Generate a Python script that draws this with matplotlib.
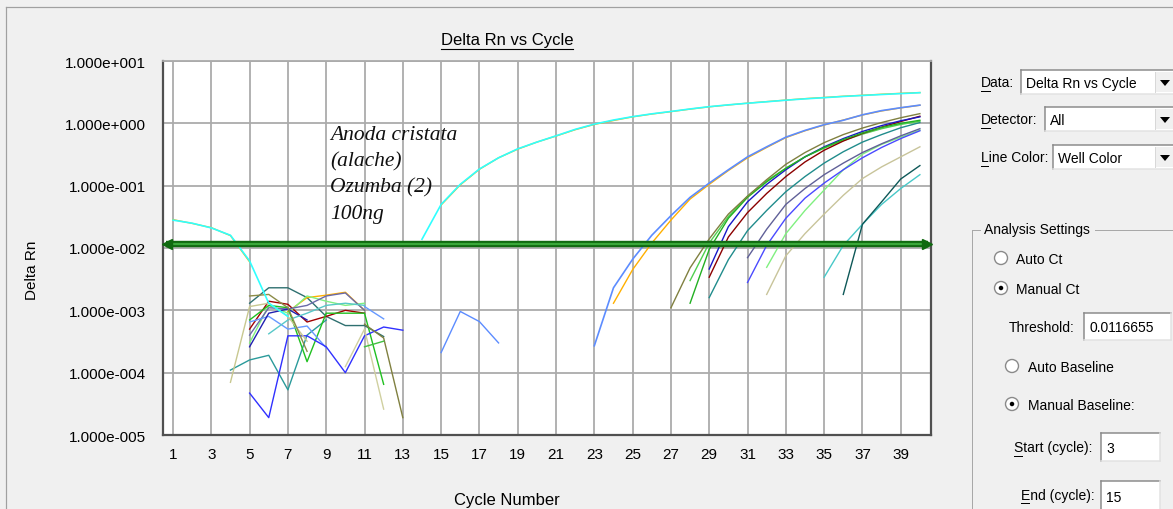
import numpy as np
import matplotlib.pyplot as plt
from matplotlib.lines import Line2D
from matplotlib.patches import Rectangle, Ellipse, Polygon

W, H = 1173, 510
FONT = 'Liberation Sans'

# Axis setup
x_ticks = list(range(1, 40, 2))
y_ticks = [1e-5, 1e-4, 1e-3, 1e-2, 1e-1, 1e0, 1e1]
y_tick_labels = ['1.000e-005', '1.000e-004', '1.000e-003', '1.000e-002',
                 '1.000e-001', '1.000e+000', '1.000e+001']
threshold = 0.0116655

sample_label = ['Anoda cristata', '(alache)', 'Ozumba (2)', '100ng']

# Well traces: (first cycle, delta Rn per cycle)
noise_teal = (4, [1.1e-4, 1.6e-4, 1.9e-4, 5.3e-5, 4.0e-4, 7.0e-4])
noise_darkteal = (5, [1.3e-3, 2.3e-3, 2.3e-3, 1.6e-3, 8.0e-4, 5.7e-4, 5.7e-4, 3.8e-4])
noise_orange = (7, [9.5e-4, 1.6e-3, 1.75e-3, 1.95e-3, 1.0e-3])
noise_red = (5, [5.0e-4, 1.4e-3, 1.25e-3, 6.5e-4, 8.0e-4, 1.0e-3, 9.0e-4])
noise_lightgreen = (5, [3.0e-4, 1.2e-3, 9.0e-4, 1.7e-3, 1.4e-3, 1.2e-3, 1.3e-3])
noise_green = (5, [7.0e-4, 1.2e-3, 1.1e-3, 1.5e-4, 9.0e-4, 9.0e-4, 9.0e-4, 6.5e-5])
noise_slate = (5, [4.0e-4, 1.1e-3, 1.05e-3, 1.2e-3, 1.7e-3, 1.9e-3, 1.0e-3])
noise_cornflower = (5, [6.5e-4, 8.0e-4, 5.0e-4, 5.6e-4, 2.5e-4])
noise_cornflower_b = (11, [1.15e-3, 7.3e-4])
noise_cornflower_c = (15, [2.1e-4, 9.6e-4, 6.6e-4, 3.0e-4])
noise_blue = (5, [4.7e-5, 1.9e-5, 3.9e-4, 3.9e-4, 2.6e-4, 1.0e-4, 3.9e-4, 5.4e-4, 4.8e-4])
noise_navy = (5, [2.6e-4, 9.0e-4, 1.05e-3, 7.0e-4])
noise_turquoise = (6, [4.2e-4, 7.0e-4, 9.0e-4, 1.2e-3, 1.3e-3, 1.2e-3])
noise_tan = (4, [7.0e-5, 1.15e-3, 1.3e-3, 8.0e-4, 3.2e-4])
noise_tan_b = (10, [1.25e-4, 5.0e-4, 2.6e-5])
noise_olive = (5, [1.7e-3, 1.8e-3, 1.1e-3, 2.2e-4])
noise_olive_b = (11, [6.0e-4, 3.6e-4, 1.9e-5])
noise_green_b = (11, [2.6e-4, 3.2e-4])

cyan_early = (1, [0.028, 0.025, 0.021, 0.016, 0.0062, 0.0013, 0.0008])
orange_early = (1, [0.0285, 0.0248, 0.0212, 0.0158, 0.006])
cyan_rise = (14, [0.0138, 0.05, 0.105, 0.185, 0.28, 0.39, 0.5, 0.63, 0.8, 0.97,
                  1.13, 1.28, 1.42, 1.55, 1.7, 1.85, 1.98, 2.1, 2.22, 2.35,
                  2.47, 2.58, 2.7, 2.8, 2.9, 3.0, 3.1])
orange_rise = (15, [0.049, 0.103, 0.183, 0.28, 0.385, 0.5, 0.625, 0.79, 0.96, 1.11,
                    1.27, 1.41, 1.54, 1.69, 1.84, 1.97, 2.11, 2.23, 2.36, 2.49,
                    2.6, 2.72, 2.82, 2.93, 3.03, 3.12])

late_blue_top = (23, [0.00027, 0.0023, 0.0066, 0.016, 0.033, 0.065, 0.11, 0.18, 0.29, 0.42,
                      0.6, 0.77, 0.95, 1.12, 1.37, 1.6, 1.78, 1.96])
late_orange = (24, [0.0013, 0.0045, 0.012, 0.028, 0.061, 0.105, 0.175, 0.28, 0.41, 0.59,
                    0.76, 0.94, 1.13, 1.36, 1.58, 1.77, 1.95])
late_olive = (27, [0.0011, 0.0048, 0.014, 0.035, 0.068, 0.125, 0.22, 0.34, 0.49, 0.66,
                   0.84, 1.03, 1.23, 1.43])
late_green_a = (28, [0.0013, 0.0095, 0.03, 0.065, 0.115, 0.19, 0.29, 0.41, 0.55, 0.7,
                     0.86, 1.0, 1.12])
late_green_b = (28, [0.003, 0.012, 0.032, 0.068, 0.12, 0.19, 0.29, 0.4, 0.53, 0.67,
                     0.82, 0.96, 1.08])
late_red = (29, [0.0034, 0.015, 0.037, 0.075, 0.14, 0.24, 0.37, 0.52, 0.69, 0.87, 1.07, 1.3])
late_navy = (29, [0.0046, 0.022, 0.055, 0.105, 0.18, 0.29, 0.42, 0.57, 0.74, 0.92, 1.1, 1.27])
late_teal = (29, [0.0016, 0.0065, 0.019, 0.04, 0.08, 0.14, 0.23, 0.35, 0.5, 0.66, 0.85, 1.03])
late_slate = (31, [0.007, 0.02, 0.05, 0.09, 0.15, 0.23, 0.34, 0.47, 0.63, 0.82])
late_blue = (31, [0.0028, 0.011, 0.03, 0.063, 0.11, 0.18, 0.28, 0.41, 0.57, 0.76])
late_lightgreen = (32, [0.0049, 0.017, 0.04, 0.085, 0.18, 0.32, 0.46, 0.6, 0.78])
late_tan = (32, [0.0018, 0.0075, 0.017, 0.035, 0.07, 0.13, 0.2, 0.29, 0.42])
late_cyan = (35, [0.0034, 0.011, 0.024, 0.05, 0.09, 0.15])
late_darkteal = (36, [0.0018, 0.024, 0.055, 0.128, 0.21])

# drawing order: background noise first, amplification curves on top
traces = [
    (noise_teal, '#2a9a9a'), (noise_darkteal, '#2f7070'), (noise_orange, '#ffb000'),
    (noise_red, '#a00000'), (noise_lightgreen, '#80f080'), (noise_green, '#20c020'),
    (noise_slate, '#6a6aa8'), (noise_cornflower, '#6699ff'),
    (noise_cornflower_b, '#6699ff'), (noise_cornflower_c, '#5c8cff'),
    (noise_blue, '#3030ff'), (noise_navy, '#2020b0'), (noise_turquoise, '#58c8c8'),
    (noise_tan, '#c8c890'), (noise_tan_b, '#d0d0a0'), (noise_olive, '#8c8c48'),
    (noise_olive_b, '#808040'), (noise_green_b, '#40c040'),
    (late_tan, '#c8c49a'), (late_lightgreen, '#80f080'), (late_blue, '#4a4aff'),
    (late_slate, '#606098'), (late_teal, '#208c8c'), (late_green_b, '#50d050'),
    (late_red, '#8b0000'), (late_navy, '#1818c8'), (late_green_a, '#22b022'),
    (late_olive, '#808040'), (late_cyan, '#48c8c8'), (late_darkteal, '#0e5858'),
    (late_orange, '#ffb000'), (orange_early, '#ffb000'), (orange_rise, '#ffb000'),
]
# drawn last and a touch heavier so they sit on top of their orange twins
top_traces = [(late_blue_top, '#5c8cff'), (cyan_early, '#30ffff'), (cyan_rise, '#30ffff')]

fig = plt.figure(figsize=(W / 100, H / 100), dpi=100, facecolor='#f0f0f0')


def P(x, y):
    return x / W, 1 - y / H


def line_px(x0, y0, x1, y1, color, lw=1.0):
    fig.add_artist(Line2D([x0 / W, x1 / W], [1 - y0 / H, 1 - y1 / H],
                          transform=fig.transFigure, color=color, lw=lw * 0.72))


def rect_px(x0, y0, x1, y1, fc):
    fig.add_artist(Rectangle((x0 / W, 1 - y1 / H), (x1 - x0) / W, (y1 - y0) / H,
                             transform=fig.transFigure, fc=fc, ec='none'))


def text_px(x, y, s, size=10, **kw):
    kw.setdefault('family', FONT)
    return fig.text(x / W, 1 - y / H, s, fontsize=size, va='center', **kw)


def sunken_box(x0, y0, x1, y1, s):
    rect_px(x0, y0, x1, y1, 'white')
    line_px(x0, y0, x1, y0, '#8a8a8a', 1.5)
    line_px(x0, y0, x0, y1, '#8a8a8a', 1.5)
    line_px(x0, y1, x1, y1, '#e2e2e2', 1.5)
    line_px(x1, y0, x1, y1, '#e2e2e2', 1.5)
    text_px(x0 + 5, (y0 + y1) / 2 + 1, s, color='black')


def combo(x0, y0, x1, y1, s):
    sunken_box(x0, y0, x1, y1, s)
    bx0 = x1 - 20
    rect_px(bx0, y0 + 2, x1 - 1, y1 - 2, '#f0f0f0')
    line_px(bx0, y0 + 2, bx0, y1 - 2, '#d8d8d8')
    cx, cy = (bx0 + x1) / 2, (y0 + y1) / 2 + 1
    fig.add_artist(Polygon([P(cx - 5, cy - 3), P(cx + 5, cy - 3), P(cx, cy + 3)],
                           closed=True, transform=fig.transFigure, fc='black', ec='none'))


def radio(x, y, checked):
    fig.add_artist(Ellipse(P(x, y), 13 / W, 13 / H, transform=fig.transFigure,
                           fc='white', ec='#8a8a8a', lw=1.0))
    if checked:
        fig.add_artist(Ellipse(P(x, y), 4.5 / W, 4.5 / H, transform=fig.transFigure,
                               fc='black', ec='none'))


# outer graph frame
line_px(6, 8, 1173, 8, '#a0a0a0', 1.2)
line_px(6, 8, 6, 510, '#a0a0a0', 1.2)

ax = fig.add_axes([163 / W, 1 - 436 / H, (931 - 163) / W, (436 - 62) / H])
ax.set_facecolor('white')
ax.set_yscale('log')
ax.set_ylim(1e-5, 1e1)
ax.set_xlim(0.478, 40.58)
ax.set_xticks(x_ticks)
ax.set_xticklabels([str(c) for c in x_ticks], family=FONT, fontsize=11)
ax.set_yticks(y_ticks)
ax.set_yticklabels(y_tick_labels, family=FONT, fontsize=11)
ax.yaxis.set_minor_locator(plt.NullLocator())
ax.tick_params(length=0)
ax.tick_params(axis='x', pad=9)
ax.tick_params(axis='y', pad=12)
ax.grid(True, color='#ababab', lw=1.3)
ax.set_axisbelow(True)
for side in ['left', 'bottom', 'right']:
    ax.spines[side].set_color('#505050')
    ax.spines[side].set_linewidth(1.6)
ax.spines['top'].set_color('#ababab')
ax.spines['top'].set_linewidth(1.3)

for (start, vals), color in traces:
    ax.plot(np.arange(start, start + len(vals)), vals, color=color, lw=1.0)
for (start, vals), color in top_traces:
    ax.plot(np.arange(start, start + len(vals)), vals, color=color, lw=1.2)

# threshold bar with arrow ends
x_lo, x_hi = ax.get_xlim()
ax.plot([x_lo + 0.15, x_hi - 0.15], [threshold, threshold], color='#106a10', lw=4.6,
        solid_capstyle='butt', zorder=5)
ax.plot([x_lo + 0.15, x_hi - 0.15], [threshold, threshold], color='#3aa83a', lw=1.6,
        solid_capstyle='butt', zorder=6)
ax.plot([x_lo + 0.2], [threshold], marker='<', ms=7, color='#106a10', zorder=7, clip_on=False)
ax.plot([x_hi - 0.2], [threshold], marker='>', ms=7, color='#106a10', zorder=7, clip_on=False)

for i, s in enumerate(sample_label):
    text_px(330, 136 + 26 * i, s, size=15.5, family='Liberation Serif', style='italic',
            color='#101010')

title = text_px(507, 41, 'Delta Rn vs Cycle', size=12, ha='center')
text_px(507, 501, 'Cycle Number', size=12, ha='center')
fig.text(32 / W, 1 - 270 / H, 'Delta Rn', fontsize=11, family=FONT, rotation=90,
         ha='center', va='center')

fig.canvas.draw()
bb = title.get_window_extent()
fig.add_artist(Line2D([bb.x0 / W, bb.x1 / W], [(bb.y0 - 1) / H] * 2,
                      transform=fig.transFigure, color='black', lw=0.8))

# side panel controls
text_px(981, 83, 'Data:')
combo(1021, 71, 1175, 95, 'Delta Rn vs Cycle')
text_px(981, 120, 'Detector:')
combo(1045, 108, 1175, 132, 'All')
text_px(981, 158, 'Line Color:')
combo(1053, 146, 1175, 170, 'Well Color')
for x0, y, w in [(981, 92, 9), (981, 129, 9), (981, 167, 7), (1014, 457, 8), (1021, 504, 8)]:
    line_px(x0, y, x0 + w, y, 'black', 1.0)

line_px(972, 231, 980, 231, '#a8a8a8')
line_px(1095, 231, 1175, 231, '#a8a8a8')
line_px(972, 231, 972, 510, '#a8a8a8')
text_px(984, 230, 'Analysis Settings')

radio(1001, 259, False)
text_px(1016, 260, 'Auto Ct')
radio(1001, 289, True)
text_px(1016, 290, 'Manual Ct')
text_px(1009, 328, 'Threshold:')
sunken_box(1084, 314, 1171, 341, '0.0116655')
radio(1012, 367, False)
text_px(1028, 368, 'Auto Baseline')
radio(1012, 405, True)
text_px(1028, 406, 'Manual Baseline:')
text_px(1014, 448, 'Start (cycle):')
sunken_box(1101, 434, 1160, 462, '3')
text_px(1021, 496, 'End (cycle):')
sunken_box(1101, 482, 1160, 512, '15')

fig.savefig('out.png', dpi=100, facecolor=fig.get_facecolor())
